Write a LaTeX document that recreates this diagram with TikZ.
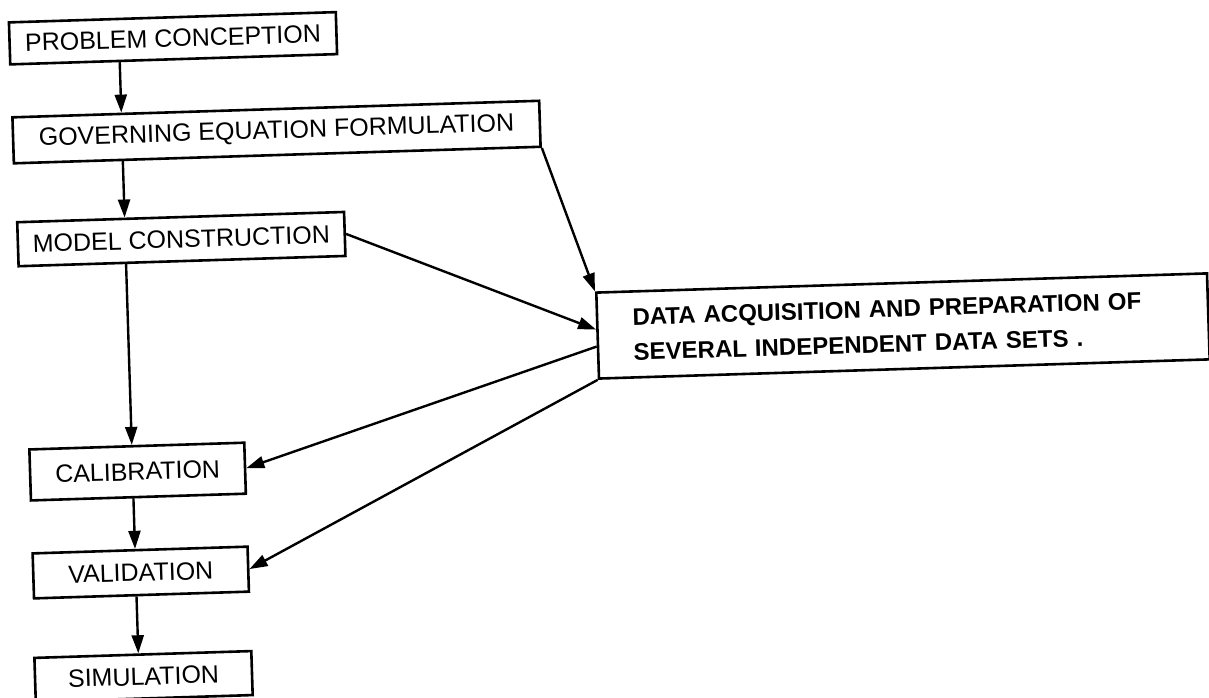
\documentclass[tikz,border=0pt]{standalone}
\usepackage{fontspec}
\setmainfont{Liberation Sans}
\usepackage{tikz}
\usetikzlibrary{arrows.meta}
\tikzstyle{stagebox} = [draw=black, line width=2.6pt, inner sep=0pt, text centered, font=\fontsize{25}{33}\selectfont]
\tikzstyle{arrow} = [line width=2.4pt, -{Triangle[length=18pt,width=12pt]}]

\begin{document}
\begin{tikzpicture}[x=1pt, y=-1pt]
    \useasboundingbox (0,0) rectangle (1209,698);
    % the scanned sheet sits slightly turned
    \begin{scope}[rotate around={1.8:(600,350)}, transform shape]
    % left column
    \node[stagebox, minimum width=327pt, minimum height=42pt] (problem) at (183,25) {PROBLEM CONCEPTION};
    \node[stagebox, minimum width=527pt, minimum height=46pt] (governing) at (283.5,122) {GOVERNING EQUATION FORMULATION};
    \node[stagebox, minimum width=327pt, minimum height=44pt] (model) at (185,226) {MODEL CONSTRUCTION};
    \node[stagebox, minimum width=215pt, minimum height=51pt] (calibration) at (134,457) {CALIBRATION};
    \node[stagebox, minimum width=215pt, minimum height=45pt] (validation) at (134,558) {VALIDATION};
    \node[stagebox, minimum width=217pt, minimum height=44pt] (simulation) at (133.5,662) {SIMULATION};
    % data box
    \node[stagebox, minimum width=611pt, minimum height=86pt, text width=540pt, align=left, font=\fontsize{24}{35}\selectfont\bfseries] (data) at (903.6,335.5) {DATA ACQUISITION AND PREPARATION OF\\SEVERAL INDEPENDENT DATA SETS .};
    % down the column
    \draw[arrow] ([xshift=-54pt]problem.south) -- ([xshift=-154.5pt]governing.north);
    \draw[arrow] ([xshift=-154.5pt]governing.south) -- ([xshift=-56pt]model.north);
    \draw[arrow] ([xshift=-56pt]model.south) -- ([xshift=-5pt]calibration.north);
    \draw[arrow] ([xshift=-5pt]calibration.south) -- ([xshift=-5pt]validation.north);
    \draw[arrow] ([xshift=-5pt]validation.south) -- ([xshift=-4.5pt]simulation.north);
    % to and from the data
    \draw[arrow] (governing.south east) -- (data.north west);
    \draw[arrow] (model.east) -- ([yshift=6pt]data.west);
    \draw[arrow] ([yshift=-11pt]data.west) -- (calibration.east);
    \draw[arrow] (data.south west) -- (validation.east);
    \end{scope}
\end{tikzpicture}
\end{document}
